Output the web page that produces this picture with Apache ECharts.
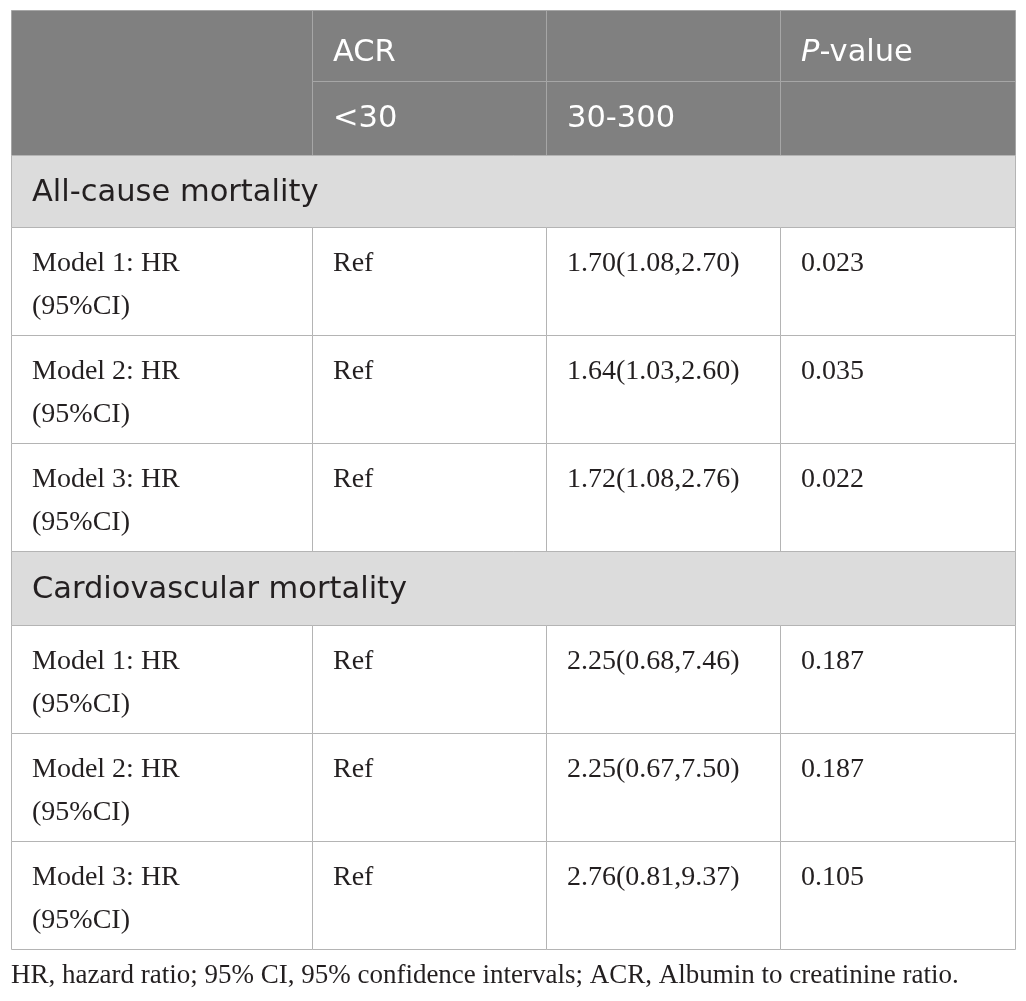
<!DOCTYPE html>
<html>
<head>
<meta charset="utf-8">
<script src="https://cdn.jsdelivr.net/npm/echarts@6/dist/echarts.min.js"></script>
<style>html,body{margin:0;padding:0;background:#fff}#c{width:1026px;height:1001px}</style>
</head>
<body>
<div id="c"></div>
<script>
// ---- data ----
const headerRow1 = ['', 'ACR', '', 'P-value'];
const headerRow2 = ['', '<30', '30-300', ''];
const sectionTitles = ['All-cause mortality', 'Cardiovascular mortality'];
const modelLabels = ['Model 1: HR\n(95%CI)', 'Model 2: HR\n(95%CI)', 'Model 3: HR\n(95%CI)'];
const refLabel = 'Ref';
const hrAllCause = ['1.70(1.08,2.70)', '1.64(1.03,2.60)', '1.72(1.08,2.76)'];
const pAllCause = ['0.023', '0.035', '0.022'];
const hrCardio = ['2.25(0.68,7.46)', '2.25(0.67,7.50)', '2.76(0.81,9.37)'];
const pCardio = ['0.187', '0.187', '0.105'];
const footnote = 'HR, hazard ratio; 95% CI, 95% confidence intervals; ACR, Albumin to creatinine ratio.';

// ---- layout (axis units) ----
const colEdges = [0, 301, 535, 769, 1004];
const rowEdges = [0, 71, 145, 217, 325, 433, 541, 615, 723, 831, 939];

const cells = [];
function add(c0, c1, r0, r1, text, kind) { cells.push({ c0, c1, r0, r1, text, kind }); }
// header
add(0, 1, 0, 2, '', 'head');
for (let c = 1; c < 4; c++) add(c, c + 1, 0, 1, headerRow1[c], 'head1');
for (let c = 1; c < 4; c++) add(c, c + 1, 1, 2, headerRow2[c], 'head2');
function block(startRow, title, hr, p) {
  add(0, 4, startRow, startRow + 1, title, 'section');
  for (let i = 0; i < 3; i++) {
    const r = startRow + 1 + i;
    add(0, 1, r, r + 1, modelLabels[i], 'body');
    add(1, 2, r, r + 1, refLabel, 'body');
    add(2, 3, r, r + 1, hr[i], 'body');
    add(3, 4, r, r + 1, p[i], 'body');
  }
}
block(2, sectionTitles[0], hrAllCause, pAllCause);
block(6, sectionTitles[1], hrCardio, pCardio);

const SANS = '"DejaVu Sans", "Open Sans", sans-serif';
const SERIF = '"Liberation Serif", "DejaVu Serif", serif';

const chart = echarts.init(document.getElementById('c'));
chart.setOption({
  animation: false,
  title: {
    text: footnote, left: 6, top: 957,
    textStyle: { fontFamily: SERIF, fontSize: 27, fontWeight: 'normal', color: '#231f20' }
  },
  grid: { left: 11, top: 10, width: 1004, height: 939 },
  xAxis: { type: 'value', min: 0, max: 1004, show: false },
  yAxis: { type: 'value', min: 0, max: 939, inverse: true, show: false },
  series: [{
    type: 'custom',
    coordinateSystem: 'cartesian2d',
    data: cells.map((c, i) => [c.c0, c.r0, i]),
    encode: { x: 0, y: 1 },
    clip: false,
    renderItem: function (params, api) {
      const cell = cells[api.value(2)];
      const p0 = api.coord([colEdges[cell.c0], rowEdges[cell.r0]]);
      const p1 = api.coord([colEdges[cell.c1], rowEdges[cell.r1]]);
      const x = p0[0], y = p0[1], w = p1[0] - p0[0], h = p1[1] - p0[1];
      const isHead = cell.kind.indexOf('head') === 0;
      const fill = isHead ? '#808080' : (cell.kind === 'section' ? '#dcdcdc' : '#ffffff');
      const stroke = isHead ? '#a6a6a6' : '#b4b4b4';
      const children = [{
        type: 'rect',
        shape: { x: x + 0.5, y: y + 0.5, width: w, height: h },
        style: { fill: fill, stroke: stroke, lineWidth: 1 }
      }];
      if (cell.text) {
        let ts;
        if (cell.kind === 'body') {
          ts = { x: x + 21, y: y + 15, text: cell.text, fontFamily: SERIF, fontSize: 28,
                 lineHeight: 43, fill: '#231f20', verticalAlign: 'top', align: 'left' };
        } else {
          const off = cell.kind === 'head1' ? 8 : (cell.kind === 'head2' ? 1 : 2);
          const isP = cell.text === 'P-value';
          ts = { x: x + 21, y: y + h / 2 + off,
                 text: isP ? '{i|P}-value' : cell.text,
                 fontFamily: SANS, fontSize: 30.5,
                 fill: isHead ? '#ffffff' : '#231f20', verticalAlign: 'middle', align: 'left' };
          if (isP) ts.rich = { i: { fontStyle: 'italic', fontFamily: SANS, fontSize: 30.5, fill: '#ffffff' } };
        }
        children.push({ type: 'text', style: ts });
      }
      return { type: 'group', children: children };
    }
  }]
});
</script>
</body>
</html>
